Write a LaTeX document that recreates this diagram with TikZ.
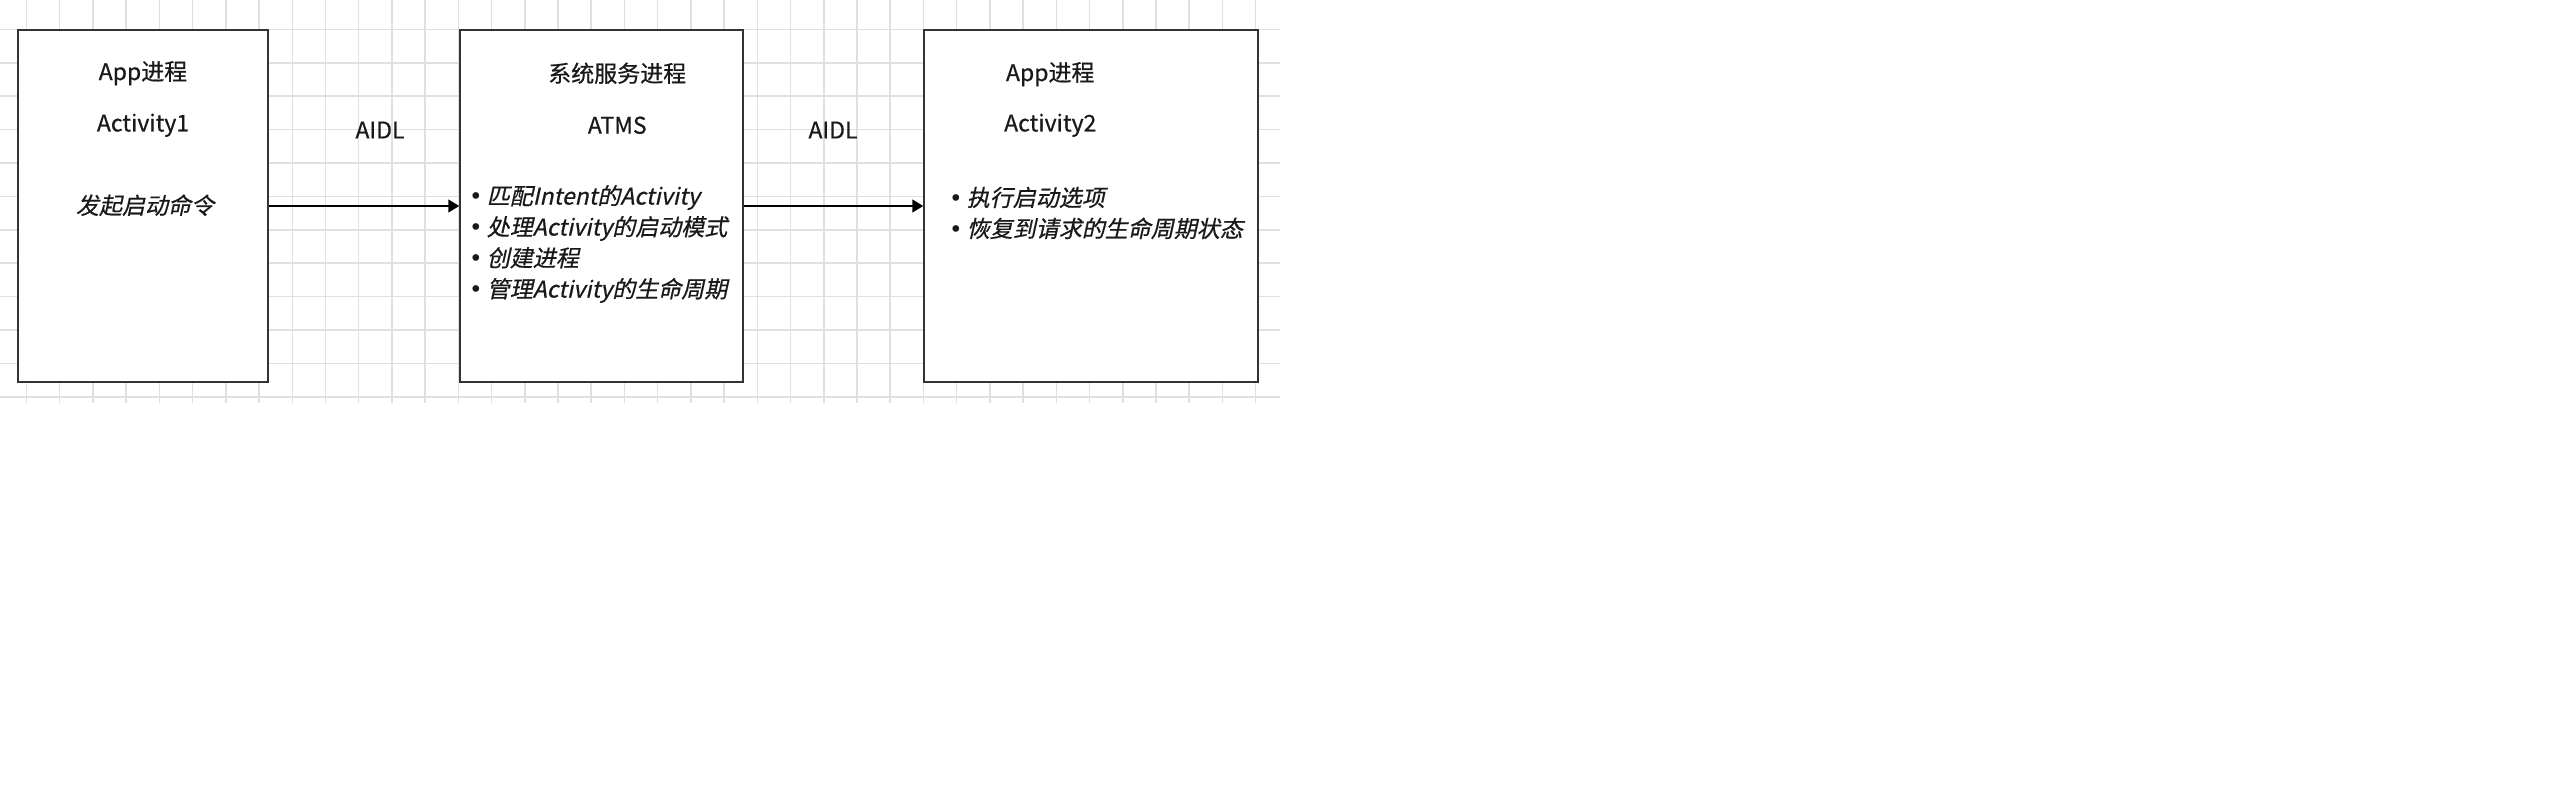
\documentclass[tikz,border=0pt]{standalone}
\usepackage{fontspec}
\setmainfont{Noto Sans CJK SC}[UprightFeatures={FakeBold=0.6}, ItalicFont={Noto Sans CJK SC}, ItalicFeatures={FakeSlant=0.22, FakeBold=0.6}]
\newfontfamily\bulletfont{DejaVu Sans}
\usetikzlibrary{positioning}
\usetikzlibrary{arrows.meta}
\tikzset{proc/.style={draw=black!80, line width=1.5pt, fill=white, inner sep=0pt}}
\tikzset{lbl/.style={inner sep=0pt, text=black!90, font=\fontsize{23}{31}\selectfont}}
\tikzset{gridline/.style={draw=black!12, line width=1.5pt}}
\tikzset{>={Triangle[length=11pt,width=13pt]}}
\newcommand{\jobitem}[1]{{\bulletfont •}\hspace{4pt}\textit{#1}}

\begin{document}
\begin{tikzpicture}[x=1pt, y=-1pt, on grid]
        \fill[white] (0,0) rectangle (2560,808);
        \useasboundingbox (0,0) rectangle (2560,808);

        % background grid
        \foreach \i in {0,...,37} \draw[gridline] ({26.5+33.22*\i},0) -- ({26.5+33.22*\i},403);
        \foreach \j in {0,...,11} \draw[gridline] (0,{29.4+33.4*\j}) -- (1280,{29.4+33.4*\j});

        % processes
        \node[proc, minimum width=250, minimum height=352] (app1) at (143,206) {};
        \node[proc, minimum width=283, minimum height=352] (atms) at (601.5,206) {};
        \node[proc, minimum width=334, minimum height=352] (app2) at (1091,206) {};

        \node[lbl, below=44pt of app1.north, anchor=center] (app1title) {App进程};
        \node[lbl, below=96pt of app1.north, anchor=center] (app1act) {Activity1};
        \node[lbl, below=176pt of app1.north, anchor=center, xshift=2pt] (app1cmd) {\textit{发起启动命令}};

        \node[lbl, below right=44pt and 158pt of atms.north west, anchor=center] (atmstitle) {系统服务进程};
        \node[lbl, below right=96pt and 158pt of atms.north west, anchor=center] (atmsname) {ATMS};
        \node[lbl, anchor=west, align=left] (atmsjobs) at (469,244)
            {\jobitem{匹配Intent的Activity}\\
             \jobitem{处理Activity的启动模式}\\
             \jobitem{创建进程}\\
             \jobitem{管理Activity的生命周期}};

        \node[lbl, below right=45pt and 127pt of app2.north west, anchor=center] (app2title) {App进程};
        \node[lbl, below right=96pt and 127pt of app2.north west, anchor=center] (app2act) {Activity2};
        \node[lbl, anchor=west, align=left] (app2jobs) at (949,213)
            {\jobitem{执行启动选项}\\
             \jobitem{恢复到请求的生命周期状态}};

        % ipc
        \draw[->, line width=1.5pt] (app1) -- (atms);
        \draw[->, line width=1.5pt] (atms) -- (app2);
        \node[lbl] (aidl1) at (380,130) {AIDL};
        \node[lbl] (aidl2) at (833,130) {AIDL};
    \end{tikzpicture}
\end{document}
